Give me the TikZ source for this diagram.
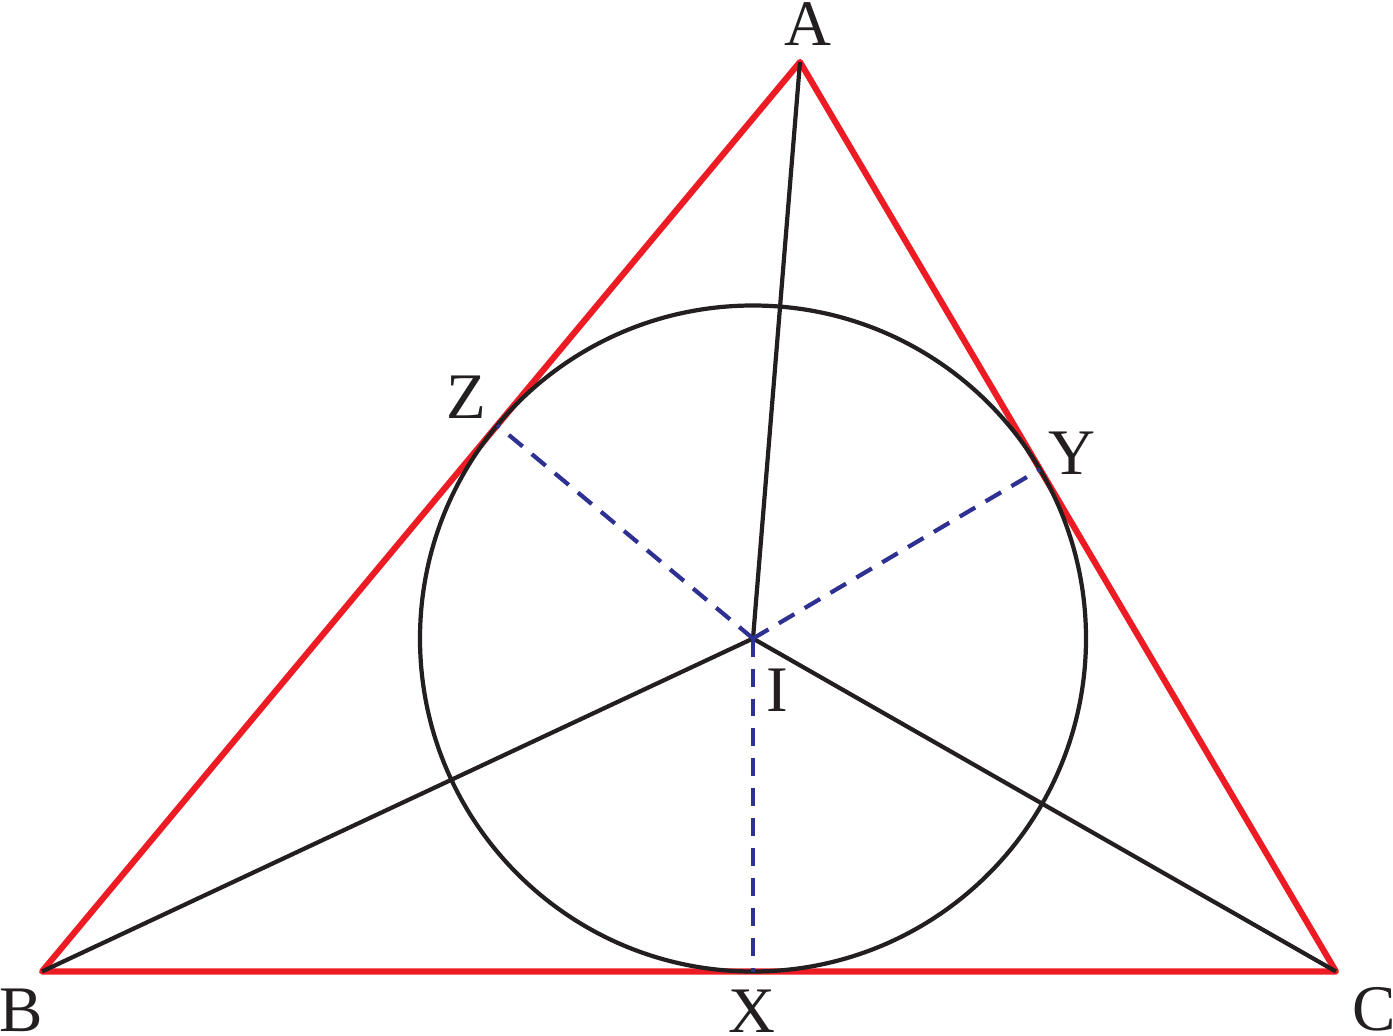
\documentclass[tikz,border=0pt]{standalone}
\usepackage{fontspec}
\setmainfont{Liberation Serif}
\usetikzlibrary{calc}
\definecolor{sidered}{RGB}{237,28,36}
\definecolor{radblue}{RGB}{46,49,146}
\definecolor{inkblack}{RGB}{35,31,32}

\begin{document}
\begin{tikzpicture}[x=0.02cm,y=-0.02cm,
    side/.style={sidered, line width=3.5pt, line join=round, line cap=round},
    bisect/.style={inkblack, line width=2.4pt},
    radius line/.style={radblue, line width=2.4pt, dash pattern=on 0.36cm off 0.24cm},
    lbl/.style={inner sep=0pt, font=\fontsize{37}{40}\selectfont, text=inkblack}]
                    \useasboundingbox (0,0) rectangle (1393,1035);
                    \coordinate (A) at (800,62);
                    \coordinate (B) at (42,971.5);
                    \coordinate (C) at (1336,971.5);
                    \coordinate (I) at (753,638.5);
                    \coordinate (X) at ($(B)!(I)!(C)$);
                    \coordinate (Y) at ($(A)!(I)!(C)$);
                    \coordinate (Z) at ($(A)!(I)!(B)$);
                    \draw[side] (A) -- (B) -- (C) -- cycle;
                    \draw[bisect] (I) circle[radius=333];
                    \foreach \v in {A,B,C} {
                        \draw[bisect] (I) -- (\v);
                    }
                    \foreach \t in {X,Y,Z} {
                        \draw[radius line] (I) -- (\t);
                    }
                    \node[lbl] (labA) at (808,24) {A};
                    \node[lbl] (labB) at (21,1010) {B};
                    \node[lbl] (labC) at (1374,1009) {C};
                    \node[lbl] (labX) at (752,1011) {X};
                    \node[lbl] (labY) at (1072,453) {Y};
                    \node[lbl] (labZ) at (466,397) {Z};
                    \node[lbl] (labI) at (777,690) {I};
                \end{tikzpicture}
\end{document}
